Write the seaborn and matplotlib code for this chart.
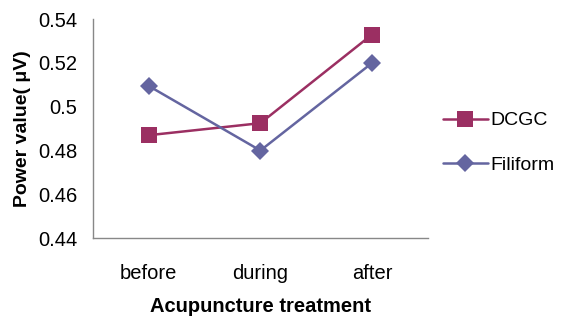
import matplotlib
matplotlib.use("Agg")
import matplotlib.pyplot as plt
import seaborn as sns
import pandas as pd
from matplotlib.lines import Line2D

categories = ["before", "during", "after"]
dcgc = [0.487, 0.4925, 0.533]
filiform = [0.5095, 0.480, 0.520]
yticks = [0.44, 0.46, 0.48, 0.5, 0.52, 0.54]
ytick_labels = ["0.44", "0.46", "0.48", "0.5", "0.52", "0.54"]

sns.set_style("white")
plt.rcParams["font.family"] = ["Liberation Sans", "DejaVu Sans"]
plt.rcParams["text.color"] = "black"
plt.rcParams["axes.labelcolor"] = "black"
plt.rcParams["xtick.color"] = "black"
plt.rcParams["ytick.color"] = "black"

df = pd.DataFrame({
    "pos": list(range(3)) * 2,
    "value": dcgc + filiform,
    "series": ["DCGC"] * 3 + ["Filiform"] * 3,
})

fig = plt.figure(figsize=(5.63, 3.2), dpi=100)
ax = fig.add_axes([0.165, 0.256, 0.595, 0.684])

colors = {"DCGC": "#9B2F62", "Filiform": "#6465A0"}
markers = {"DCGC": "s", "Filiform": "D"}
sizes = {"DCGC": 11, "Filiform": 9.5}
for s in ["DCGC", "Filiform"]:
    sub = df[df.series == s]
    sns.lineplot(data=sub, x="pos", y="value", ax=ax, color=colors[s],
                 marker=markers[s], markersize=sizes[s], markeredgewidth=0,
                 linewidth=1.8, legend=False)

ax.set_xlim(-0.5, 2.5)
ax.set_ylim(0.44, 0.54)
ax.set_xticks(range(3))
ax.set_xticklabels(categories, fontsize=14.5)
ax.set_yticks(yticks)
ax.set_yticklabels(ytick_labels, fontsize=14.5)
ax.tick_params(axis="x", length=0, pad=19)
ax.tick_params(axis="y", length=0, pad=11)
for side in ["top", "right"]:
    ax.spines[side].set_visible(False)
for side in ["left", "bottom"]:
    ax.spines[side].set_color("#888888")
    ax.spines[side].set_linewidth(1.0)

ax.set_xlabel("Acupuncture treatment", fontsize=14.5, fontweight="bold", labelpad=10)
ax.set_ylabel("Power value( μV)", fontsize=14, fontweight="bold", labelpad=5)

handles = [Line2D([], [], color=colors[s], marker=markers[s], markersize=sizes[s],
                  markeredgewidth=0, linewidth=1.8) for s in ["DCGC", "Filiform"]]
fig.legend(handles, ["DCGC", "Filiform"], loc="center left",
           bbox_to_anchor=(0.787, 0.553), frameon=False, fontsize=14,
           borderpad=0, borderaxespad=0,
           handlelength=2.3, handletextpad=0.15, labelspacing=1.4)

fig.savefig("out.png", dpi=100)
